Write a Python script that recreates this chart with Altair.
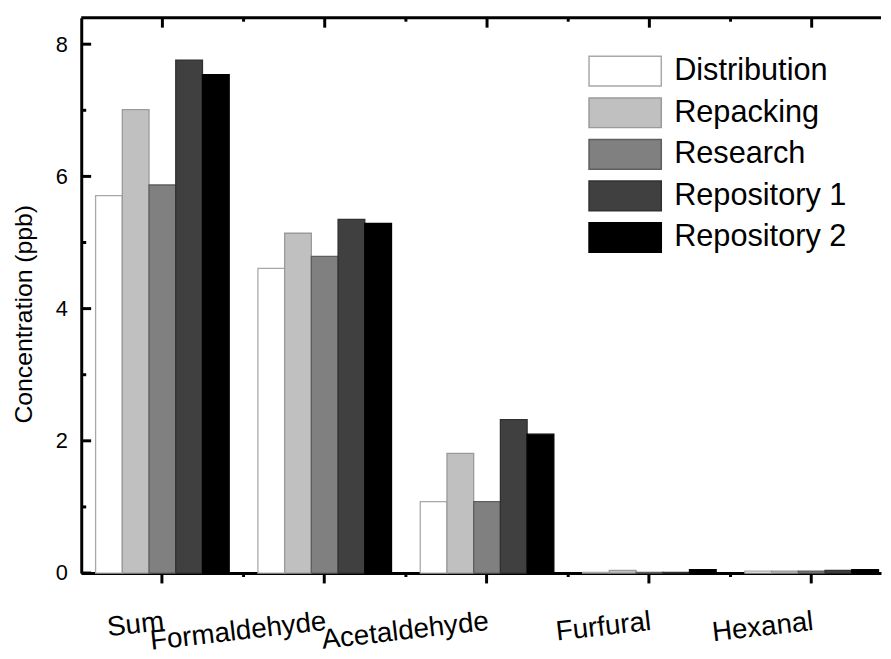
import altair as alt
import pandas as pd

# ---- data ----
categories = ["Sum", "Formaldehyde", "Acetaldehyde", "Furfural", "Hexanal"]
series = ["Distribution", "Repacking", "Research", "Repository 1", "Repository 2"]
distribution = [5.71, 4.61, 1.08, 0.01, 0.03]
repacking = [7.01, 5.14, 1.81, 0.04, 0.03]
research = [5.87, 4.79, 1.08, 0.01, 0.03]
repository1 = [7.76, 5.35, 2.32, 0.01, 0.04]
repository2 = [7.54, 5.29, 2.10, 0.05, 0.05]
y_major = [0, 2, 4, 6, 8]
y_minor = [1, 3, 5, 7]
group_bounds = [1, 2, 3, 4]

fills = ["#ffffff", "#c0c0c0", "#808080", "#404040", "#000000"]
strokes = ["#a8a8a8", "#9a9a9a", "#5e5e5e", "#303030", "#000000"]

rows = []
for s, vals in zip(series, [distribution, repacking, research, repository1, repository2]):
    for c, v in zip(categories, vals):
        rows.append({"category": c, "series": s, "value": v})
df = pd.DataFrame(rows)

W, H = 808, 561
YMAX = 8.4
FONT = "Liberation Sans"

PI, PO, AL = 0.177, 0.052, 0.85
step = W / (len(categories) - PI + 2 * PO)

xscale = alt.Scale(domain=categories, paddingInner=PI, paddingOuter=PO, align=AL)
yscale = alt.Scale(domain=[0, YMAX], nice=False, zero=True)
qscale = alt.Scale(domain=[0, W / step], nice=False, zero=False)

legend = alt.Legend(
    title=None, orient="none", legendX=512, legendY=38,
    symbolType="M-1,-1H3.867V1H-1Z", symbolSize=900, symbolStrokeWidth=1.5,
    labelFont=FONT, labelFontSize=31, labelColor="#000000", labelOffset=55,
    labelLimit=400, rowPadding=6, padding=0,
)

yaxis = alt.Axis(values=y_major, title="Concentration (ppb)", ticks=False,
                 grid=False, domainWidth=3, domainColor="#000000",
                 labelFont=FONT, labelFontSize=22, labelColor="#000000",
                 labelPadding=14, titleFont=FONT, titleFontSize=25,
                 titleFontWeight="normal", titleColor="#000000",
                 titleAngle=270, titleX=-58, titleY=299,
                 titleAlign="center", titleBaseline="middle")

bars = alt.Chart(df).mark_bar(strokeWidth=1.3).encode(
    x=alt.X("category:N", sort=categories, scale=xscale,
            axis=alt.Axis(title=None, labelAngle=353.5, labelAlign="right",
                          labelBaseline="top", labelPadding=25, labelFont=FONT,
                          labelFontSize=28, labelColor="#000000", labelLimit=400,
                          labelOverlap=False, tickSize=10, tickWidth=3,
                          tickColor="#000000", domainWidth=3, domainColor="#000000")),
    xOffset=alt.XOffset("series:N", sort=series,
                        scale=alt.Scale(domain=series, paddingInner=0, paddingOuter=0)),
    y=alt.Y("value:Q", scale=yscale, axis=yaxis),
    fill=alt.Fill("series:N", sort=series, scale=alt.Scale(domain=series, range=fills), legend=legend),
    stroke=alt.Stroke("series:N", sort=series, scale=alt.Scale(domain=series, range=strokes), legend=legend),
)

ymaj = alt.Chart(pd.DataFrame({"value": y_major})).mark_rule(color="#000000", strokeWidth=3).encode(
    y=alt.Y("value:Q", scale=yscale, axis=yaxis), x=alt.value(0), x2=alt.value(10))
ymin = alt.Chart(pd.DataFrame({"value": y_minor})).mark_rule(color="#000000", strokeWidth=3).encode(
    y=alt.Y("value:Q", scale=yscale, axis=yaxis), x=alt.value(0), x2=alt.value(5))

top_line = alt.Chart(pd.DataFrame({"value": [YMAX]})).mark_rule(color="#000000", strokeWidth=3).encode(
    y=alt.Y("value:Q", scale=yscale, axis=yaxis), x=alt.value(0), x2=alt.value(W))

top_major = alt.Chart(pd.DataFrame({"category": categories})).mark_rule(color="#000000", strokeWidth=3).encode(
    x=alt.X("category:N", sort=categories, scale=xscale, axis=None), y=alt.value(0), y2=alt.value(10))

minor_bottom = alt.Chart(pd.DataFrame({"b": group_bounds})).mark_rule(color="#000000", strokeWidth=3).encode(
    x=alt.X("b:Q", scale=qscale, axis=None), y=alt.value(H), y2=alt.value(H + 4))
minor_top = alt.Chart(pd.DataFrame({"b": group_bounds})).mark_rule(color="#000000", strokeWidth=3).encode(
    x=alt.X("b:Q", scale=qscale, axis=None), y=alt.value(0), y2=alt.value(4))

chart = alt.layer(bars, ymaj, ymin, top_line, top_major, minor_bottom, minor_top).resolve_scale(
    x="independent"
).properties(
    width=W, height=H, background="#ffffff",
    padding={"left": 4, "top": 4.5, "right": 0, "bottom": 0},
).configure_view(stroke=None)

chart.save("out.html", embed_options={"renderer": "svg", "actions": False})
